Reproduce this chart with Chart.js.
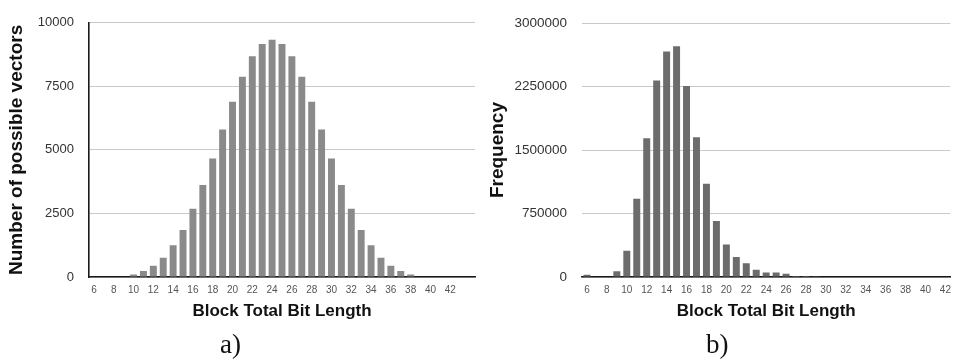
<!DOCTYPE html>
<html>
<head>
<meta charset="utf-8">
<script src="https://cdn.jsdelivr.net/npm/chart.js@4.4.1/dist/chart.umd.min.js"></script>
<style>
    html, body { margin: 0; padding: 0; background: #fff; overflow: hidden; }
    body { width: 954px; height: 361px; position: relative; }
    .box { position: absolute; top: 0; height: 330px; }
    #box-a { left: 0; width: 480px; }
    #box-b { left: 474px; width: 484px; }
    .cap { position: absolute; top: 329px; font-family: "Liberation Serif", "DejaVu Serif", serif; font-size: 27px; color: #111; }
</style>
</head>
<body>
<div class="box" id="box-a"><canvas id="chart-a"></canvas></div>
<div class="box" id="box-b"><canvas id="chart-b"></canvas></div>
<div class="cap" style="left:220px">a)</div>
<div class="cap" style="left:706px">b)</div>

<script>
// Bit lengths on the x axis
const bitLengthsA = [6, 7, 8, 9, 10, 11, 12, 13, 14, 15, 16, 17, 18, 19, 20, 21, 22, 23, 24, 25,
    26, 27, 28, 29, 30, 31, 32, 33, 34, 35, 36, 37, 38, 39, 40, 41, 42, 43, 44];
const bitLengthsB = [6, 7, 8, 9, 10, 11, 12, 13, 14, 15, 16, 17, 18, 19, 20, 21, 22, 23, 24, 25,
    26, 27, 28, 29, 30, 31, 32, 33, 34, 35, 36, 37, 38, 39, 40, 41, 42];

// a) number of possible vectors
const possibleVectors = [0, 0, 0, 0, 100, 240, 440, 760, 1250, 1850, 2680, 3620, 4660, 5800, 6890,
    7880, 8680, 9170, 9330, 9170, 8680, 7880, 6890, 5800, 4660, 3620, 2680, 1850, 1250, 760,
    440, 240, 100, 0, 0, 0, 0, 0, 0];

// b) observed frequency
const frequency = [28000, 0, 0, 68000, 311000, 924000, 1638000, 2323000, 2665000, 2726000,
    2258000, 1650000, 1102000, 662000, 383000, 235000, 163000, 87000, 52000, 52000,
    38000, 12000, 12000, 10000, 0, 0, 0, 0, 0, 0, 0, 0, 0, 0, 0, 0, 0];

const ticksA = [0, 2500, 5000, 7500, 10000];
const ticksB = [0, 750000, 1500000, 2250000, 3000000];

const FONT = '"Liberation Sans", Arial, Helvetica, sans-serif';
Chart.defaults.font.family = FONT;
Chart.defaults.animation = false;

function makeChart(id, labels, values, yTicks, yTitle, opts) {
    const ctx = document.getElementById(id);
    return new Chart(ctx, {
        type: 'bar',
        data: {
            labels: labels,
            datasets: [{
                data: values,
                backgroundColor: opts.barColor,
                barPercentage: 0.7,
                categoryPercentage: 1.0
            }]
        },
        options: {
            responsive: true,
            maintainAspectRatio: false,
            layout: { padding: { left: 0, top: 13, right: opts.padRight, bottom: 0 } },
            plugins: { legend: { display: false }, tooltip: { enabled: false } },
            scales: {
                x: {
                    grid: { display: false, drawTicks: false },
                    border: { display: true, color: '#1a1a1a', width: 1.6 },
                    ticks: {
                        autoSkip: false,
                        maxRotation: 0,
                        padding: 7,
                        color: '#555',
                        font: { size: 10 },
                        callback: function (v, i) {
                            const n = labels[i];
                            return (n % 2 === 0 && n <= 42) ? String(n) : '';
                        }
                    },
                    title: {
                        display: true,
                        text: 'Block Total Bit Length',
                        color: '#111',
                        font: { size: 17, weight: 'bold' },
                        padding: { top: 0, bottom: 8 }
                    },
                    afterFit: scale => { scale.height = 53; }
                },
                y: {
                    min: 0,
                    max: yTicks[yTicks.length - 1],
                    afterBuildTicks: scale => { scale.ticks = yTicks.map(v => ({ value: v })); },
                    grid: { color: '#c9c9c9', lineWidth: 1, drawTicks: false },
                    border: { display: opts.yBorder, color: '#1a1a1a', width: 1.6 },
                    ticks: {
                        padding: 15,
                        color: '#333',
                        font: { size: opts.yTickSize },
                        callback: v => String(v)
                    },
                    title: {
                        display: true,
                        text: yTitle,
                        color: '#111',
                        font: { size: 19, weight: 'bold' },
                        padding: { top: opts.titlePad, bottom: 0 }
                    },
                    afterFit: scale => { scale.width = opts.yWidth; }
                }
            }
        }
    });
}

makeChart('chart-a', bitLengthsA, possibleVectors, ticksA, 'Number of possible vectors', {
    barColor: '#8a8a8a', yBorder: true, yWidth: 89, titlePad: 5, yTickSize: 13, padRight: 5
});

makeChart('chart-b', bitLengthsB, frequency, ticksB, 'Frequency', {
    barColor: '#6c6c6c', yBorder: false, yWidth: 108, titlePad: 12, yTickSize: 13.5, padRight: 3
});
</script>
</body>
</html>
